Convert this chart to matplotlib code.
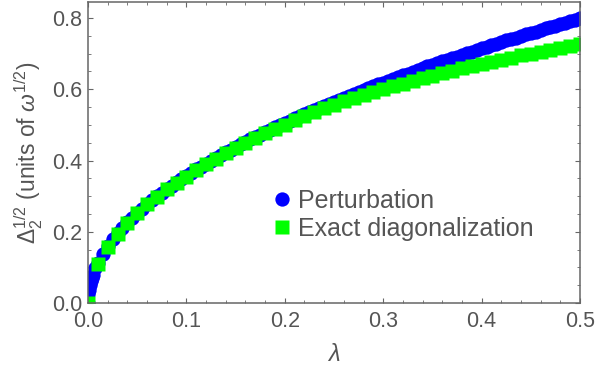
import matplotlib
matplotlib.use("Agg")
import matplotlib.pyplot as plt
from matplotlib.ticker import MultipleLocator

plt.rcParams['font.family'] = ['Liberation Sans', 'DejaVu Sans']
plt.rcParams['mathtext.fontset'] = 'custom'
plt.rcParams['mathtext.rm'] = 'Liberation Sans'
plt.rcParams['mathtext.it'] = 'Liberation Sans:italic'

# perturbation (dense)
lam_pert = [0, 0.0005, 0.001, 0.002, 0.003, 0.004, 0.005, 0.0075, 0.01, 0.015,
            0.02, 0.025, 0.03, 0.035, 0.04, 0.045, 0.05, 0.055, 0.06, 0.065,
            0.07, 0.075, 0.08, 0.085, 0.09, 0.095, 0.10, 0.105, 0.11, 0.115,
            0.12, 0.125, 0.13, 0.135, 0.14, 0.145, 0.15, 0.155, 0.16, 0.165,
            0.17, 0.175, 0.18, 0.185, 0.19, 0.195, 0.20, 0.205, 0.21, 0.215,
            0.22, 0.225, 0.23, 0.235, 0.24, 0.245, 0.25, 0.255, 0.26, 0.265,
            0.27, 0.275, 0.28, 0.285, 0.29, 0.295, 0.30, 0.305, 0.31, 0.315,
            0.32, 0.325, 0.33, 0.335, 0.34, 0.345, 0.35, 0.355, 0.36, 0.365,
            0.37, 0.375, 0.38, 0.385, 0.39, 0.395, 0.40, 0.405, 0.41, 0.415,
            0.42, 0.425, 0.43, 0.435, 0.44, 0.445, 0.45, 0.455, 0.46, 0.465,
            0.47, 0.475, 0.48, 0.485, 0.49, 0.495, 0.50]
gap_pert = [0, 0.025, 0.036, 0.051, 0.062, 0.071, 0.080, 0.098, 0.113, 0.138,
            0.160, 0.179, 0.196, 0.211, 0.226, 0.240, 0.253, 0.265, 0.277, 0.288,
            0.299, 0.309, 0.320, 0.329, 0.339, 0.348, 0.357, 0.366, 0.375, 0.383,
            0.391, 0.400, 0.407, 0.415, 0.423, 0.430, 0.438, 0.445, 0.452, 0.459,
            0.466, 0.473, 0.479, 0.486, 0.493, 0.499, 0.505, 0.512, 0.518, 0.524,
            0.530, 0.536, 0.542, 0.548, 0.554, 0.559, 0.565, 0.571, 0.576, 0.582,
            0.587, 0.593, 0.598, 0.603, 0.609, 0.614, 0.619, 0.624, 0.629, 0.634,
            0.639, 0.644, 0.649, 0.654, 0.659, 0.664, 0.669, 0.673, 0.678, 0.683,
            0.687, 0.692, 0.697, 0.701, 0.706, 0.710, 0.715, 0.719, 0.724, 0.728,
            0.732, 0.737, 0.741, 0.745, 0.750, 0.754, 0.758, 0.762, 0.766, 0.771,
            0.775, 0.779, 0.783, 0.787, 0.791, 0.795, 0.799]

# exact diagonalization
lam_exact = [0.00, 0.01, 0.02, 0.03, 0.04, 0.05, 0.06, 0.07, 0.08, 0.09,
             0.10, 0.11, 0.12, 0.13, 0.14, 0.15, 0.16, 0.17, 0.18, 0.19,
             0.20, 0.21, 0.22, 0.23, 0.24, 0.25, 0.26, 0.27, 0.28, 0.29,
             0.30, 0.31, 0.32, 0.33, 0.34, 0.35, 0.36, 0.37, 0.38, 0.39,
             0.40, 0.41, 0.42, 0.43, 0.44, 0.45, 0.46, 0.47, 0.48, 0.49, 0.50]
gap_exact = [0.000, 0.109, 0.157, 0.193, 0.224, 0.252, 0.277, 0.298, 0.319, 0.338,
             0.355, 0.373, 0.389, 0.405, 0.420, 0.435, 0.449, 0.463, 0.476, 0.489,
             0.501, 0.513, 0.525, 0.536, 0.547, 0.556, 0.566, 0.575, 0.584, 0.592,
             0.600, 0.608, 0.616, 0.624, 0.631, 0.638, 0.645, 0.652, 0.659, 0.665,
             0.671, 0.677, 0.683, 0.689, 0.695, 0.700, 0.706, 0.711, 0.716, 0.721,
             0.726]

fig = plt.figure(figsize=(6.16, 3.69), dpi=100)
ax = fig.add_axes([88/616, 66/369, 492/616, 301/369])

ax.plot(lam_pert, gap_pert, 'o', color='#0000ff', ms=10.3, mec='none', label='Perturbation')
ax.plot(lam_exact, gap_exact, 's', color='#00ff00', ms=10.5, mec='none',
        label='Exact diagonalization')

ax.set_xlim(0, 0.5)
ax.set_ylim(0, 0.845)

grey = '#555555'
for s in ax.spines.values():
    s.set_color('#666666')
    s.set_linewidth(1.1)
ax.xaxis.set_major_locator(MultipleLocator(0.1))
ax.xaxis.set_minor_locator(MultipleLocator(0.02))
ax.yaxis.set_major_locator(MultipleLocator(0.2))
ax.yaxis.set_minor_locator(MultipleLocator(0.05))
ax.tick_params(which='both', direction='in', top=True, right=True, color='#666666',
               labelcolor=grey, labelsize=15.5)
ax.tick_params(which='major', length=3.5, width=0.8, pad=4)
ax.tick_params(axis='x', which='major', pad=5.5)
ax.tick_params(which='minor', length=2, width=0.6)
ax.xaxis.set_major_formatter(plt.FuncFormatter(lambda v, p: f'{v:.1f}'))
ax.yaxis.set_major_formatter(plt.FuncFormatter(lambda v, p: f'{v:.1f}'))

ax.set_xlabel(r'$\lambda$', color=grey, fontsize=17, labelpad=9)
ax.set_ylabel(r'$\Delta_2^{1/2}$ (units of $\omega^{1/2}$)', color=grey, fontsize=16.5)
ax.yaxis.set_label_coords(-0.088, 0.5)

ax.legend(loc='upper left', bbox_to_anchor=(0.344, 0.42), frameon=False, borderpad=0,
          handlelength=1, handletextpad=0.15, labelspacing=0.15, fontsize=18,
          labelcolor=grey)

fig.savefig('out.png', dpi=100)
